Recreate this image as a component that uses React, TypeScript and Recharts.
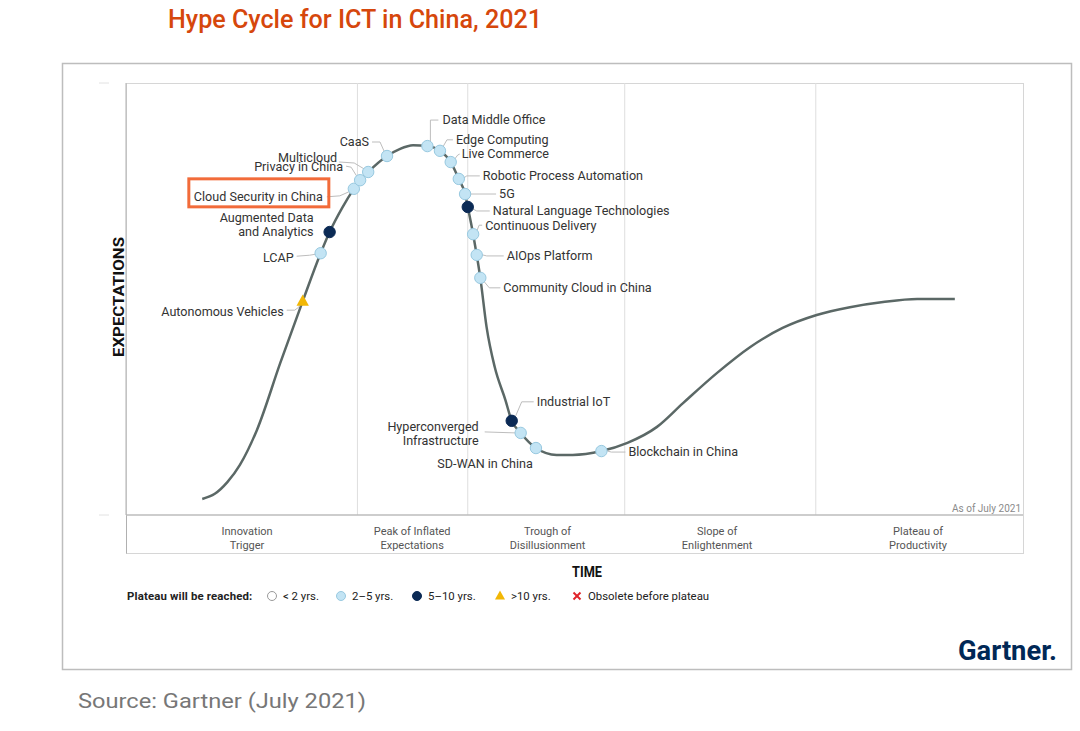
import React from "react";
import { ComposedChart, Legend, Line, ReferenceLine, Scatter, XAxis, YAxis } from "recharts";

// hype curve (time 0-100, expectations 0-100)
const CURVE_TIME = [
  8.5, 9.9, 11.3, 12.7, 14.6, 17.2, 19.7, 21.7, 22.7, 24.1, 25.4, 26.1, 27.0, 29.1, 30.5, 32.0, 33.6, 35.0, 36.2,
  37.1, 37.8, 38.1, 38.7, 39.1, 39.5, 40.2, 41.1, 42.3, 43.0, 44.0, 45.7, 48.0, 49.8, 53.0, 55.9, 59.2, 62.1, 65.9,
  69.6, 73.2, 77.0, 80.7, 84.4, 88.2, 92.4,
];
const CURVE_EXPECT = [
  3.7, 4.9, 7.6, 11.6, 19.7, 35.2, 49.5, 60.6, 65.5, 71.1, 75.5, 77.5, 79.4, 83.1, 84.7, 85.6, 85.4, 84.3, 81.7,
  77.8, 74.3, 71.3, 65.0, 60.2, 54.9, 43.5, 34.3, 26.6, 21.8, 19.0, 15.5, 13.9, 13.9, 14.8, 16.7, 20.4, 25.9, 32.9,
  38.9, 43.3, 46.3, 48.1, 49.3, 50.0, 50.0,
];

const TECH_NAMES = [
  "Autonomous Vehicles",
  "LCAP",
  "Augmented Data and Analytics",
  "Cloud Security in China",
  "Privacy in China",
  "Multicloud",
  "CaaS",
  "Data Middle Office",
  "Edge Computing",
  "Live Commerce",
  "Robotic Process Automation",
  "5G",
  "Natural Language Technologies",
  "Continuous Delivery",
  "AIOps Platform",
  "Community Cloud in China",
  "Industrial IoT",
  "Hyperconverged Infrastructure",
  "SD-WAN in China",
  "Blockchain in China",
];
const TECH_TIME = [19.7, 21.7, 22.7, 25.4, 26.1, 27.0, 29.1, 33.6, 35.0, 36.2, 37.1, 37.8, 38.1, 38.7, 39.1, 39.5, 43.0, 44.0, 45.7, 53.0];
const TECH_EXPECT = [49.5, 60.6, 65.5, 75.5, 77.5, 79.4, 83.1, 85.4, 84.3, 81.7, 77.8, 74.3, 71.3, 65.0, 60.2, 54.9, 21.8, 19.0, 15.5, 14.8];
const TECH_PLATEAU = ["10+", "2-5", "5-10", "2-5", "2-5", "2-5", "2-5", "2-5", "2-5", "2-5", "2-5", "2-5", "5-10", "2-5", "2-5", "2-5", "5-10", "2-5", "2-5", "2-5"];

const PHASE_NAMES = [
  ["Innovation", "Trigger"],
  ["Peak of Inflated", "Expectations"],
  ["Trough of", "Disillusionment"],
  ["Slope of", "Enlightenment"],
  ["Plateau of", "Productivity"],
];
const PHASE_CENTERS = [13.5, 31.9, 47.0, 65.9, 88.3];
const PHASE_BOUNDS = [25.8, 38.1, 55.6, 76.9];

const PLATEAU_KEYS = ["<2", "2-5", "5-10", "10+", "obsolete"];
const PLATEAU_LABELS = ["< 2 yrs.", "2–5 yrs.", "5–10 yrs.", ">10 yrs.", "Obsolete before plateau"];

const HIGHLIGHT = "Cloud Security in China";

const FONT = "Roboto, 'Noto Sans', sans-serif";
const LEGEND_ITEM_W = [69, 76, 83, 77, 150];

// label placement around each marker, in px relative to the marker
type Layout = { dx: number; dy: number; anchor: "start" | "end"; lines?: string[]; leader?: number[][] };
const LABEL_LAYOUT: Record<string, Layout> = {
  "Autonomous Vehicles": { dx: -19, dy: 10, anchor: "end", leader: [[-4, 6], [-8, 9], [-16, 9]] },
  LCAP: { dx: -27, dy: 4, anchor: "end", leader: [[-5, 1], [-11, 2], [-24, 3]] },
  "Augmented Data and Analytics": { dx: -16, dy: -14, anchor: "end", lines: ["Augmented Data", "and Analytics"] },
  "Cloud Security in China": { dx: -31, dy: 8, anchor: "end", leader: [[-5, 3], [-14, 7], [-27, 8]] },
  "Privacy in China": { dx: -17, dy: -14, anchor: "end", leader: [[-4, -5], [-9, -13], [-14, -14]] },
  Multicloud: { dx: -31, dy: -14, anchor: "end", leader: [[-4, -3], [-14, -9], [-29, -10]] },
  CaaS: { dx: -18, dy: -14, anchor: "end", leader: [[-3, -5], [-7, -14], [-15, -14]] },
  "Data Middle Office": { dx: 15, dy: -26, anchor: "start", leader: [[3, -5], [3, -26], [11, -26]] },
  "Edge Computing": { dx: 16, dy: -11, anchor: "start", leader: [[3, -4], [7, -11], [13, -11]] },
  "Live Commerce": { dx: 11, dy: -8, anchor: "start", leader: [[4, -3], [7, -7], [9, -8]] },
  "Robotic Process Automation": { dx: 24, dy: -3, anchor: "start", leader: [[5, -1], [8, -3], [21, -3]] },
  "5G": { dx: 34, dy: 0, anchor: "start", leader: [[6, 0], [31, 0]] },
  "Natural Language Technologies": { dx: 25, dy: 4, anchor: "start", leader: [[5, 2], [9, 4], [22, 4]] },
  "Continuous Delivery": { dx: 12, dy: -9, anchor: "start", leader: [[4, -4], [6, -9], [9, -9]] },
  "AIOps Platform": { dx: 30, dy: 1, anchor: "start", leader: [[6, 0], [10, 1], [27, 1]] },
  "Community Cloud in China": { dx: 23, dy: 10, anchor: "start", leader: [[4, 4], [9, 10], [20, 10]] },
  "Industrial IoT": { dx: 25, dy: -19, anchor: "start", leader: [[4, -5], [10, -19], [22, -19]] },
  "Hyperconverged Infrastructure": {
    dx: -42,
    dy: -6,
    anchor: "end",
    lines: ["Hyperconverged", "Infrastructure"],
    leader: [[-5, 0], [-36, -1]],
  },
  "SD-WAN in China": { dx: -3, dy: 16, anchor: "end" },
  "Blockchain in China": { dx: 27, dy: 1, anchor: "start", leader: [[6, 0], [10, 1], [24, 1]] },
};

const curveData = CURVE_TIME.map((x, i) => ({ x, y: CURVE_EXPECT[i] }));
const techData = TECH_NAMES.map((name, i) => ({ name, x: TECH_TIME[i], y: TECH_EXPECT[i], plateau: TECH_PLATEAU[i] }));

function Marker({ kind, cx, cy, r = 5.7 }: { kind: string; cx: number; cy: number; r?: number }) {
  if (kind === "5-10") return <circle cx={cx} cy={cy} r={r} fill="#0b2a55" stroke="#0b2a55" />;
  if (kind === "10+")
    return (
      <polygon
        points={`${cx},${cy - r - 1} ${cx - r - 0.5},${cy + r - 1} ${cx + r + 0.5},${cy + r - 1}`}
        fill="#f2b705"
      />
    );
  if (kind === "<2") return <circle cx={cx} cy={cy} r={r} fill="#fff" stroke="#9a9a9a" />;
  if (kind === "obsolete")
    return (
      <g stroke="#e0242b" strokeWidth={2}>
        <line x1={cx - r + 1} y1={cy - r + 1} x2={cx + r - 1} y2={cy + r - 1} />
        <line x1={cx - r + 1} y1={cy + r - 1} x2={cx + r - 1} y2={cy - r + 1} />
      </g>
    );
  return <circle cx={cx} cy={cy} r={r} fill="#c3e4f4" stroke="#98c9e0" />;
}

function TechMark(props: any) {
  const { cx, cy, payload } = props;
  const lay = LABEL_LAYOUT[payload.name] || { dx: 10, dy: 0, anchor: "start" };
  const lines = lay.lines || [payload.name];
  const tx = cx + lay.dx;
  const ty = cy + lay.dy;
  return (
    <g>
      {lay.leader && (
        <polyline
          points={[[0, 0], ...lay.leader].map(([a, b]) => `${cx + a},${cy + b}`).join(" ")}
          fill="none"
          stroke="#bdbdbd"
          strokeWidth={1}
        />
      )}
      {payload.name === HIGHLIGHT && (
        <rect x={tx - 134} y={ty - 18} width={140} height={28} fill="none" stroke="#f26b3a" strokeWidth={3} />
      )}
      <Marker kind={payload.plateau} cx={cx} cy={cy} />
      <text x={tx} y={ty} textAnchor={lay.anchor} fontFamily={FONT} fontSize={12.6} fill="#333">
        {lines.map((l, k) => (
          <tspan key={k} x={tx} dy={k === 0 ? "0.35em" : 14}>
            {l}
          </tspan>
        ))}
      </text>
    </g>
  );
}

function PhaseTick({ x, y, payload }: any) {
  const i = PHASE_CENTERS.indexOf(payload.value);
  const lines = PHASE_NAMES[i] || [];
  return (
    <text x={x} y={y} textAnchor="middle" fontFamily={FONT} fontSize={11} fill="#555">
      {lines.map((l, k) => (
        <tspan key={k} x={x} dy={k === 0 ? 20 : 14}>
          {l}
        </tspan>
      ))}
    </text>
  );
}

function EdgeTick({ x, y }: any) {
  return <line x1={x - 19} x2={x - 9} y1={y} y2={y} stroke="#e2e2e2" />;
}

function PlateauLegend() {
  return (
    <div
      style={{
        display: "flex",
        alignItems: "center",
        fontFamily: FONT,
        fontSize: 11.4,
        color: "#222",
        whiteSpace: "nowrap",
      }}
    >
      <span style={{ fontWeight: 700, width: 139, letterSpacing: 0.15 }}>Plateau will be reached:</span>
      {PLATEAU_KEYS.map((k, i) => (
        <span key={k} style={{ display: "inline-flex", alignItems: "center", width: LEGEND_ITEM_W[i] }}>
          <svg width={12} height={12} style={{ marginRight: 5 }}>
            <Marker kind={k} cx={6} cy={6} r={4.5} />
          </svg>
          {PLATEAU_LABELS[i]}
        </span>
      ))}
    </div>
  );
}

export default function App() {
  return (
    <div style={{ position: "absolute", left: 0, top: 0, width: 1080, height: 731, background: "#fff" }}>
      <svg width={1080} height={731} style={{ position: "absolute", left: 0, top: 0 }}>
        <text
          x={168}
          y={28}
          fontFamily={FONT}
          fontWeight={500}
          fontSize={25}
          fill="#d6470c"
          textLength={374}
          lengthAdjust="spacingAndGlyphs"
        >
          Hype Cycle for ICT in China, 2021
        </text>
        <rect x={62.5} y={63.5} width={1009} height={606} fill="none" stroke="#bdbdbd" strokeWidth={1.5} />
        <rect x={126.5} y={83.5} width={897} height={470} fill="none" stroke="#d6d6d6" />
        <line x1={126.5} x2={126.5} y1={515} y2={553.5} stroke="#b0b0b0" />
        <text
          transform="translate(124 297) rotate(-90)"
          textAnchor="middle"
          fontFamily={FONT}
          fontWeight={700}
          fontSize={15}
          fill="#111"
          textLength={120}
          lengthAdjust="spacingAndGlyphs"
        >
          EXPECTATIONS
        </text>
        <text x={572} y={577} fontFamily={FONT} fontWeight={700} fontSize={15} fill="#111" textLength={30} lengthAdjust="spacingAndGlyphs">
          TIME
        </text>
        <text x={1021} y={512} textAnchor="end" fontFamily={FONT} fontSize={10} fill="#8a8a8a">
          As of July 2021
        </text>
        <text x={958} y={660} fontFamily={FONT} fontWeight={700} fontSize={27} fill="#002856" textLength={99} lengthAdjust="spacingAndGlyphs">
          Gartner.
        </text>
        <text x={78} y={708} fontFamily={FONT} fontSize={21} fill="#777" textLength={288} lengthAdjust="spacingAndGlyphs">
          Source: Gartner (July 2021)
        </text>
      </svg>
      <div style={{ position: "absolute", left: 0, top: 0 }}>
        <ComposedChart width={1080} height={731} margin={{ top: 83, right: 57, bottom: 178, left: 66 }}>
          <XAxis
            type="number"
            dataKey="x"
            domain={[0, 100]}
            ticks={PHASE_CENTERS}
            tick={<PhaseTick />}
            tickLine={false}
            tickSize={0}
            tickMargin={0}
            height={38}
            axisLine={{ stroke: "#bdbdbd", strokeWidth: 1.5 }}
            allowDataOverflow
          />
          <YAxis
            type="number"
            dataKey="y"
            domain={[0, 100]}
            ticks={[0, 100]}
            width={60}
            tick={<EdgeTick />}
            tickLine={false}
            axisLine={{ stroke: "#b0b0b0" }}
            allowDataOverflow
          />
          {PHASE_BOUNDS.map((b) => (
            <ReferenceLine key={b} x={b} stroke="#dedede" strokeWidth={1} />
          ))}
          <Line
            data={curveData}
            dataKey="y"
            type="monotone"
            stroke="#5b6866"
            strokeWidth={2.5}
            dot={false}
            isAnimationActive={false}
          />
          {PLATEAU_KEYS.map((k) => {
            const pts = techData.filter((t) => t.plateau === k);
            if (!pts.length) return null;
            return (
              <Scatter
                key={k}
                name={k}
                data={pts}
                dataKey="y"
                shape={(p: any) => <TechMark {...p} />}
                isAnimationActive={false}
              />
            );
          })}
          <Legend
            layout="horizontal"
            verticalAlign="middle"
            align="center"
            content={() => <PlateauLegend />}
            wrapperStyle={{ left: 127, top: 589, width: 760, height: 16 }}
          />
        </ComposedChart>
      </div>
    </div>
  );
}
